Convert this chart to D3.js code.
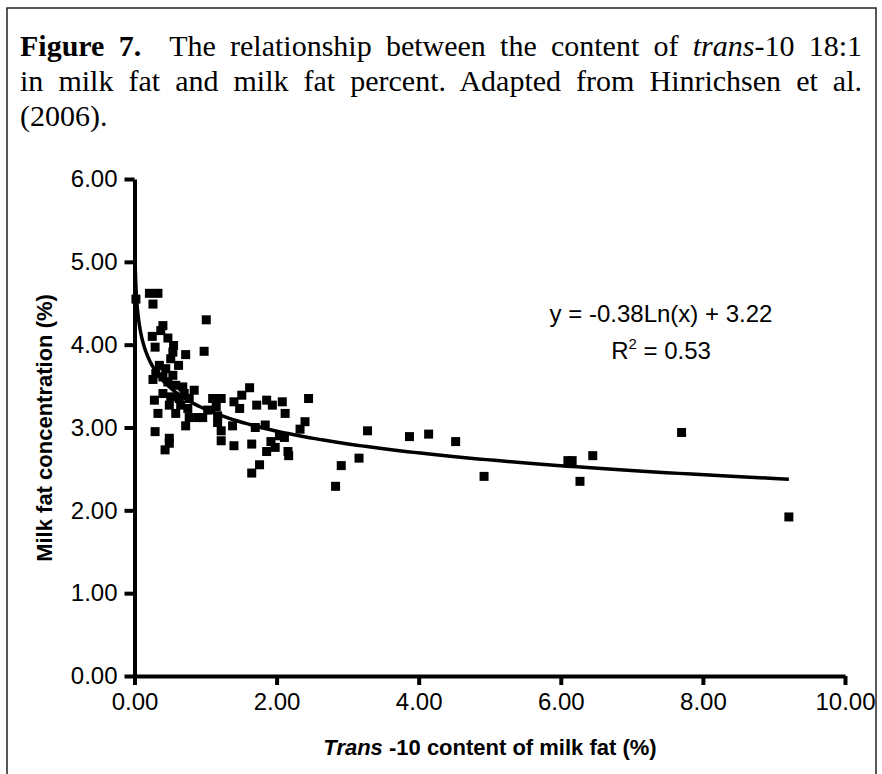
<!DOCTYPE html>
<html lang="en">
<head>
    <meta charset="UTF-8">
    <script src="https://cdn.jsdelivr.net/npm/d3@7"></script>
    <title>Figure 7 - trans-10 18:1 vs milk fat</title>
    <style>
        html, body {
            margin: 0;
            padding: 0;
            width: 882px;
            height: 774px;
            background: #fff;
            overflow: hidden;
            position: relative;
        }
        #caption {
            position: absolute;
            left: 20px;
            top: 28px;
            width: 842px;
            font-family: "Liberation Serif", "Times New Roman", serif;
            font-size: 30px;
            line-height: 35px;
            color: #000;
        }
        #caption .just {
            text-align: justify;
            text-align-last: justify;
        }
        svg {
            position: absolute;
            left: 0;
            top: 0;
        }
    </style>
</head>
<body>
    <div id="caption"></div>
    <script>
        // values
        const transX = [0.02, 0.21, 0.33, 0.26, 1.01, 0.40, 0.37, 0.25, 0.47, 0.29,
            0.55, 0.98, 0.72, 0.54, 0.51, 0.62, 0.35, 0.44, 0.30, 0.26,
            0.40, 0.54, 0.47, 0.58, 0.68, 0.84, 0.70, 0.40, 0.28, 0.51,
            0.63, 0.77, 1.10, 1.22, 1.40, 0.49, 0.33, 0.58, 0.65, 0.75,
            0.77, 0.89, 0.96, 1.03, 1.15, 1.17, 1.17, 1.38, 0.72, 1.22,
            1.22, 1.40, 0.29, 0.49, 0.49, 0.43, 1.62, 1.51, 1.48, 1.72,
            1.86, 1.94, 2.08, 2.12, 2.45, 2.40, 2.33, 1.70, 1.84, 2.04,
            2.11, 1.92, 1.98, 1.86, 2.16, 2.17, 1.65, 1.76, 1.65, 2.91,
            3.16, 2.83, 3.28, 3.87, 4.14, 4.52, 4.92, 6.10, 6.16, 6.45,
            6.27, 7.70, 9.21];
        const milkFat = [4.55, 4.62, 4.62, 4.49, 4.30, 4.23, 4.17, 4.10, 4.08, 3.97,
            3.99, 3.92, 3.88, 3.91, 3.83, 3.75, 3.75, 3.71, 3.65, 3.58,
            3.61, 3.63, 3.55, 3.51, 3.49, 3.45, 3.41, 3.41, 3.33, 3.37,
            3.35, 3.35, 3.35, 3.35, 3.31, 3.27, 3.17, 3.17, 3.27, 3.23,
            3.12, 3.12, 3.12, 3.21, 3.25, 3.14, 3.06, 3.02, 3.02, 2.96,
            2.84, 2.78, 2.95, 2.87, 2.81, 2.73, 3.48, 3.39, 3.23, 3.27,
            3.33, 3.27, 3.31, 3.17, 3.35, 3.07, 2.98, 3.00, 3.03, 2.90,
            2.88, 2.83, 2.76, 2.71, 2.71, 2.66, 2.80, 2.55, 2.45, 2.54,
            2.63, 2.29, 2.96, 2.89, 2.92, 2.83, 2.41, 2.60, 2.60, 2.66,
            2.35, 2.94, 1.92];

        const xTicks = [0, 2, 4, 6, 8, 10];
        const yTicks = [0, 1, 2, 3, 4, 5, 6];

        // logarithmic fit shown on the chart: y = a*ln(x) + b
        const trendCoef = [-0.38, 3.22];
        const trendRange = [0.0093, 9.21];

        const caption = d3.select('#caption');
        let l1 = caption.append('div').attr('class', 'just');
        l1.append('b').text('Figure 7.');
        l1.append('span').html('&nbsp; The relationship between the content of ');
        l1.append('i').text('trans');
        l1.append('span').text('-10 18:1');
        caption.append('div').attr('class', 'just')
            .text('in milk fat and milk fat percent. Adapted from Hinrichsen et al.');
        caption.append('div').text('(2006).');

        let width = 882, height = 774;
        let svg = d3.select('body').append('svg').attr('width', width).attr('height', height);

        // frame around the figure (runs off the bottom)
        svg.append('rect')
            .attr('x', 7).attr('y', 8)
            .attr('width', 869).attr('height', 800)
            .attr('fill', 'none')
            .attr('stroke', '#222')
            .attr('stroke-width', 1.5);

        let x = d3.scaleLinear().domain([0, 10]).range([134.5, 845]);
        let y = d3.scaleLinear().domain([0, 6]).range([676, 179]);
        let fmt = d3.format('.2f');

        let xAxis = svg.append('g')
            .attr('transform', `translate(0,${y(0)})`)
            .call(d3.axisBottom(x).tickValues(xTicks).tickFormat(fmt).tickSize(9).tickSizeOuter(0).tickPadding(8));
        let yAxis = svg.append('g')
            .attr('transform', `translate(${x(0)},0)`)
            .call(d3.axisLeft(y).tickValues(yTicks).tickFormat(fmt).tickSize(10).tickSizeOuter(0).tickPadding(7));

        [xAxis, yAxis].forEach(ax => {
            ax.selectAll('path, line').attr('stroke', '#000').attr('stroke-width', 4);
            ax.selectAll('text')
                .attr('fill', '#000')
                .style('font-family', '"Liberation Sans", Arial, sans-serif')
                .style('font-size', '24px');
        });

        // trend line
        let trendX = d3.range(0, 301).map(i => trendRange[0] * Math.pow(trendRange[1] / trendRange[0], i / 300));
        let line = d3.line()
            .x(d => x(d))
            .y(d => y(trendCoef[0] * Math.log(d) + trendCoef[1]));
        svg.append('path')
            .datum(trendX)
            .attr('d', line)
            .attr('fill', 'none')
            .attr('stroke', '#000')
            .attr('stroke-width', 3.5);

        // points
        let sq = 9;
        svg.append('g').selectAll('rect')
            .data(transX.map((v, i) => [v, milkFat[i]]))
            .join('rect')
            .attr('x', d => x(d[0]) - sq / 2)
            .attr('y', d => y(d[1]) - sq / 2)
            .attr('width', sq)
            .attr('height', sq)
            .attr('fill', '#000');

        // equation
        let eq = svg.append('g')
            .style('font-family', '"Liberation Sans", Arial, sans-serif')
            .style('font-size', '24px')
            .attr('text-anchor', 'middle');
        eq.append('text').attr('x', 661).attr('y', 322).text('y = -0.38Ln(x) + 3.22');
        let r2 = eq.append('text').attr('x', 661).attr('y', 359);
        r2.append('tspan').text('R');
        r2.append('tspan').attr('dy', -10).style('font-size', '15px').text('2');
        r2.append('tspan').attr('dy', 10).text(' = 0.53');

        // axis titles
        let xt = svg.append('text')
            .attr('x', 490).attr('y', 755)
            .attr('text-anchor', 'middle')
            .style('font-family', '"Liberation Sans", Arial, sans-serif')
            .style('font-size', '22px')
            .style('font-weight', 'bold');
        xt.append('tspan').style('font-style', 'italic').text('Trans');
        xt.append('tspan').text(' -10 content of milk fat (%)');

        svg.append('text')
            .attr('transform', 'translate(52,428) rotate(-90)')
            .attr('text-anchor', 'middle')
            .style('font-family', '"Liberation Sans", Arial, sans-serif')
            .style('font-size', '22px')
            .style('font-weight', 'bold')
            .text('Milk fat concentration (%)');
    </script>
</body>
</html>
